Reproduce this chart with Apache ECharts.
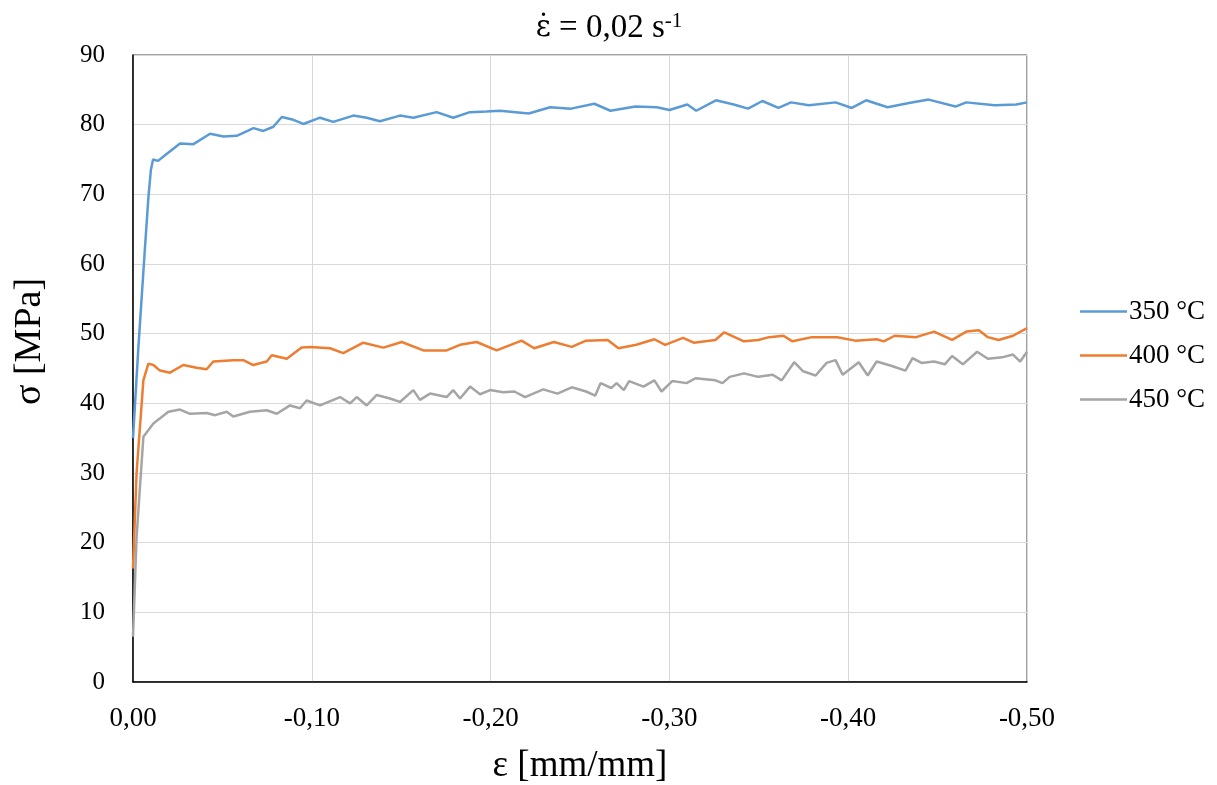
<!DOCTYPE html>
<html>
<head>
<meta charset="utf-8">
<script src="https://cdn.jsdelivr.net/npm/echarts@6/dist/echarts.min.js"></script>
<style>html,body{margin:0;padding:0;background:#fff}#c{width:1217px;height:785px}</style>
</head>
<body>
<div id="c"></div>
<script>
const seriesNames = ['350 °C', '400 °C', '450 °C'];
const xTicks = [0, -0.1, -0.2, -0.3, -0.4, -0.5];

const strain350 = [0,-0.003,-0.0066,-0.0086,-0.0100,-0.0112,-0.0140,-0.0188,-0.0263,-0.0338,-0.0431,-0.0506,-0.0580,-0.0674,-0.0729,-0.0785,-0.0832,-0.0897,-0.0953,-0.1046,-0.1120,-0.1232,-0.1307,-0.1381,-0.1493,-0.1568,-0.1698,-0.1791,-0.1884,-0.1977,-0.2053,-0.2213,-0.2333,-0.2450,-0.2580,-0.2670,-0.2810,-0.2930,-0.3000,-0.3100,-0.3150,-0.3260,-0.3360,-0.3440,-0.3520,-0.3610,-0.3680,-0.3780,-0.3930,-0.4020,-0.4100,-0.4220,-0.4340,-0.4450,-0.4600,-0.4660,-0.4820,-0.4940,-0.5000];
const stress350 = [35,48,62,69.5,73.5,75,74.8,75.8,77.3,77.2,78.7,78.3,78.4,79.5,79.1,79.7,81.1,80.7,80.1,81.0,80.4,81.3,81.0,80.5,81.3,81.0,81.8,81.0,81.8,81.9,82.0,81.6,82.5,82.3,83.0,82.0,82.6,82.5,82.1,82.9,82.0,83.5,82.9,82.3,83.4,82.4,83.2,82.8,83.2,82.4,83.5,82.5,83.1,83.6,82.6,83.2,82.8,82.9,83.2];

const strain400 = [0,-0.002,-0.0058,-0.0086,-0.0114,-0.0151,-0.0207,-0.0281,-0.0356,-0.0412,-0.0449,-0.0561,-0.0617,-0.0673,-0.0748,-0.0776,-0.0860,-0.0943,-0.0990,-0.1102,-0.1176,-0.1288,-0.1400,-0.1503,-0.1624,-0.1754,-0.1829,-0.1922,-0.2034,-0.2173,-0.2244,-0.2354,-0.2454,-0.2534,-0.2655,-0.2715,-0.2815,-0.2916,-0.2976,-0.3076,-0.3136,-0.3257,-0.3307,-0.3417,-0.3497,-0.3558,-0.3638,-0.3688,-0.3798,-0.3939,-0.4039,-0.4159,-0.4199,-0.4260,-0.4380,-0.4480,-0.4581,-0.4661,-0.4731,-0.4781,-0.4841,-0.4922,-0.5000];
const stress400 = [16.3,30,43.3,45.7,45.5,44.7,44.4,45.5,45.1,44.9,46.0,46.2,46.2,45.5,46.0,46.9,46.4,48.0,48.1,47.9,47.2,48.7,48.0,48.8,47.6,47.6,48.4,48.8,47.6,49.0,47.9,48.8,48.1,49.0,49.1,47.9,48.4,49.2,48.4,49.4,48.7,49.1,50.2,48.9,49.1,49.5,49.7,48.9,49.5,49.5,49.0,49.2,48.9,49.7,49.5,50.3,49.1,50.3,50.5,49.5,49.1,49.7,50.8];

const strain450 = [0,-0.002,-0.0058,-0.0114,-0.0198,-0.0263,-0.0319,-0.0412,-0.0459,-0.0524,-0.0561,-0.0654,-0.0748,-0.0804,-0.0878,-0.0934,-0.0971,-0.1046,-0.1158,-0.1214,-0.1251,-0.1307,-0.1363,-0.1437,-0.1493,-0.1568,-0.1605,-0.1661,-0.1754,-0.1791,-0.1829,-0.1885,-0.1941,-0.1997,-0.2071,-0.2133,-0.2193,-0.2294,-0.2374,-0.2454,-0.2534,-0.2585,-0.2615,-0.2675,-0.2705,-0.2745,-0.2775,-0.2855,-0.2916,-0.2956,-0.3016,-0.3096,-0.3146,-0.3257,-0.3297,-0.3337,-0.3417,-0.3497,-0.3578,-0.3628,-0.3698,-0.3748,-0.3818,-0.3879,-0.3929,-0.3969,-0.4059,-0.4109,-0.4159,-0.4240,-0.4320,-0.4360,-0.4410,-0.4480,-0.4540,-0.4581,-0.4641,-0.4721,-0.4781,-0.4861,-0.4922,-0.4962,-0.5000];
const stress450 = [6.5,20.8,35.2,37.1,38.8,39.1,38.5,38.6,38.3,38.8,38.1,38.8,39.0,38.5,39.7,39.3,40.4,39.7,40.9,40.0,40.9,39.7,41.2,40.7,40.2,41.9,40.5,41.4,40.9,41.9,40.7,42.4,41.3,41.9,41.6,41.7,40.9,42.0,41.4,42.3,41.7,41.1,42.9,42.2,42.9,41.9,43.2,42.4,43.3,41.7,43.2,42.9,43.6,43.3,42.9,43.8,44.3,43.8,44.1,43.3,45.9,44.6,44.0,45.8,46.2,44.1,45.9,44.0,46.0,45.4,44.7,46.5,45.8,46.0,45.6,46.8,45.6,47.4,46.4,46.6,47.0,46.0,47.4];

const colors = ['#5B9BD5', '#ED7D31', '#A5A5A5'];
const FONT = '"Liberation Serif","Times New Roman",serif';

function pairs(xs, ys) { return xs.map((x, i) => [x, ys[i]]); }

const chart = echarts.init(document.getElementById('c'), null, { renderer: 'canvas' });
chart.setOption({
  animation: false,
  backgroundColor: '#fff',
  color: colors,
  title: {
    text: '{e|ε\u0307} = 0,02 s{sup|-1}',
    left: 604, top: 6, textAlign: 'center',
    textStyle: {
      fontFamily: FONT, fontSize: 33, fontWeight: 'normal', color: '#000',
      rich: {
        e: { fontFamily: '"DejaVu Serif",serif', fontSize: 29, color: '#000' },
        sup: { fontFamily: FONT, fontSize: 21, verticalAlign: 'top', padding: [0, 0, 14, 0], color: '#000' }
      }
    }
  },
  legend: {
    orient: 'vertical', left: 1075, top: 293,
    itemWidth: 47, itemHeight: 14, itemGap: 17,
    icon: 'path://M0,6 L47,6 L47,8.5 L0,8.5 Z',
    textStyle: { fontFamily: FONT, fontSize: 27, color: '#000', padding: [0, 0, 0, -3] },
    data: seriesNames
  },
  grid: { left: 133, right: 190, top: 55, bottom: 103, show: true, borderColor: '#404040', borderWidth: 1, containLabel: false, outerBoundsMode: 'none' },
  xAxis: {
    type: 'value', inverse: true, min: -0.5, max: 0, interval: 0.1,
    name: 'ε [mm/mm]', nameLocation: 'middle', nameGap: 66,
    nameTextStyle: { fontFamily: FONT, fontSize: 37, color: '#000' },
    axisLine: { show: true, onZero: false, lineStyle: { color: '#000', width: 1.5 } },
    axisTick: { show: false },
    axisLabel: { fontFamily: FONT, fontSize: 27, color: '#000', margin: 23,
      formatter: v => { const t = xTicks.find(k => Math.abs(k - v) < 1e-9); return (t === undefined ? v : t).toFixed(2).replace('.', ','); } },
    splitLine: { show: true, lineStyle: { color: '#d9d9d9', width: 1 } }
  },
  yAxis: {
    type: 'value', min: 0, max: 90, interval: 10,
    name: 'σ [MPa]', nameLocation: 'middle', nameGap: 84,
    nameTextStyle: { fontFamily: FONT, fontSize: 38, color: '#000', padding: [0, 0, 0, 54] },
    axisLine: { show: true, lineStyle: { color: '#000', width: 1.5 } },
    axisTick: { show: false },
    axisLabel: { fontFamily: FONT, fontSize: 25, color: '#000', margin: 28 },
    splitLine: { show: true, lineStyle: { color: '#d9d9d9', width: 1 } }
  },
  series: [
    { name: seriesNames[0], type: 'line', symbol: 'none', data: pairs(strain350, stress350), lineStyle: { width: 2.5 }, z: 3 },
    { name: seriesNames[1], type: 'line', symbol: 'none', data: pairs(strain400, stress400), lineStyle: { width: 2.5 }, z: 3 },
    { name: seriesNames[2], type: 'line', symbol: 'none', data: pairs(strain450, stress450), lineStyle: { width: 2.5 }, z: 3 }
  ]
});
</script>
</body>
</html>
